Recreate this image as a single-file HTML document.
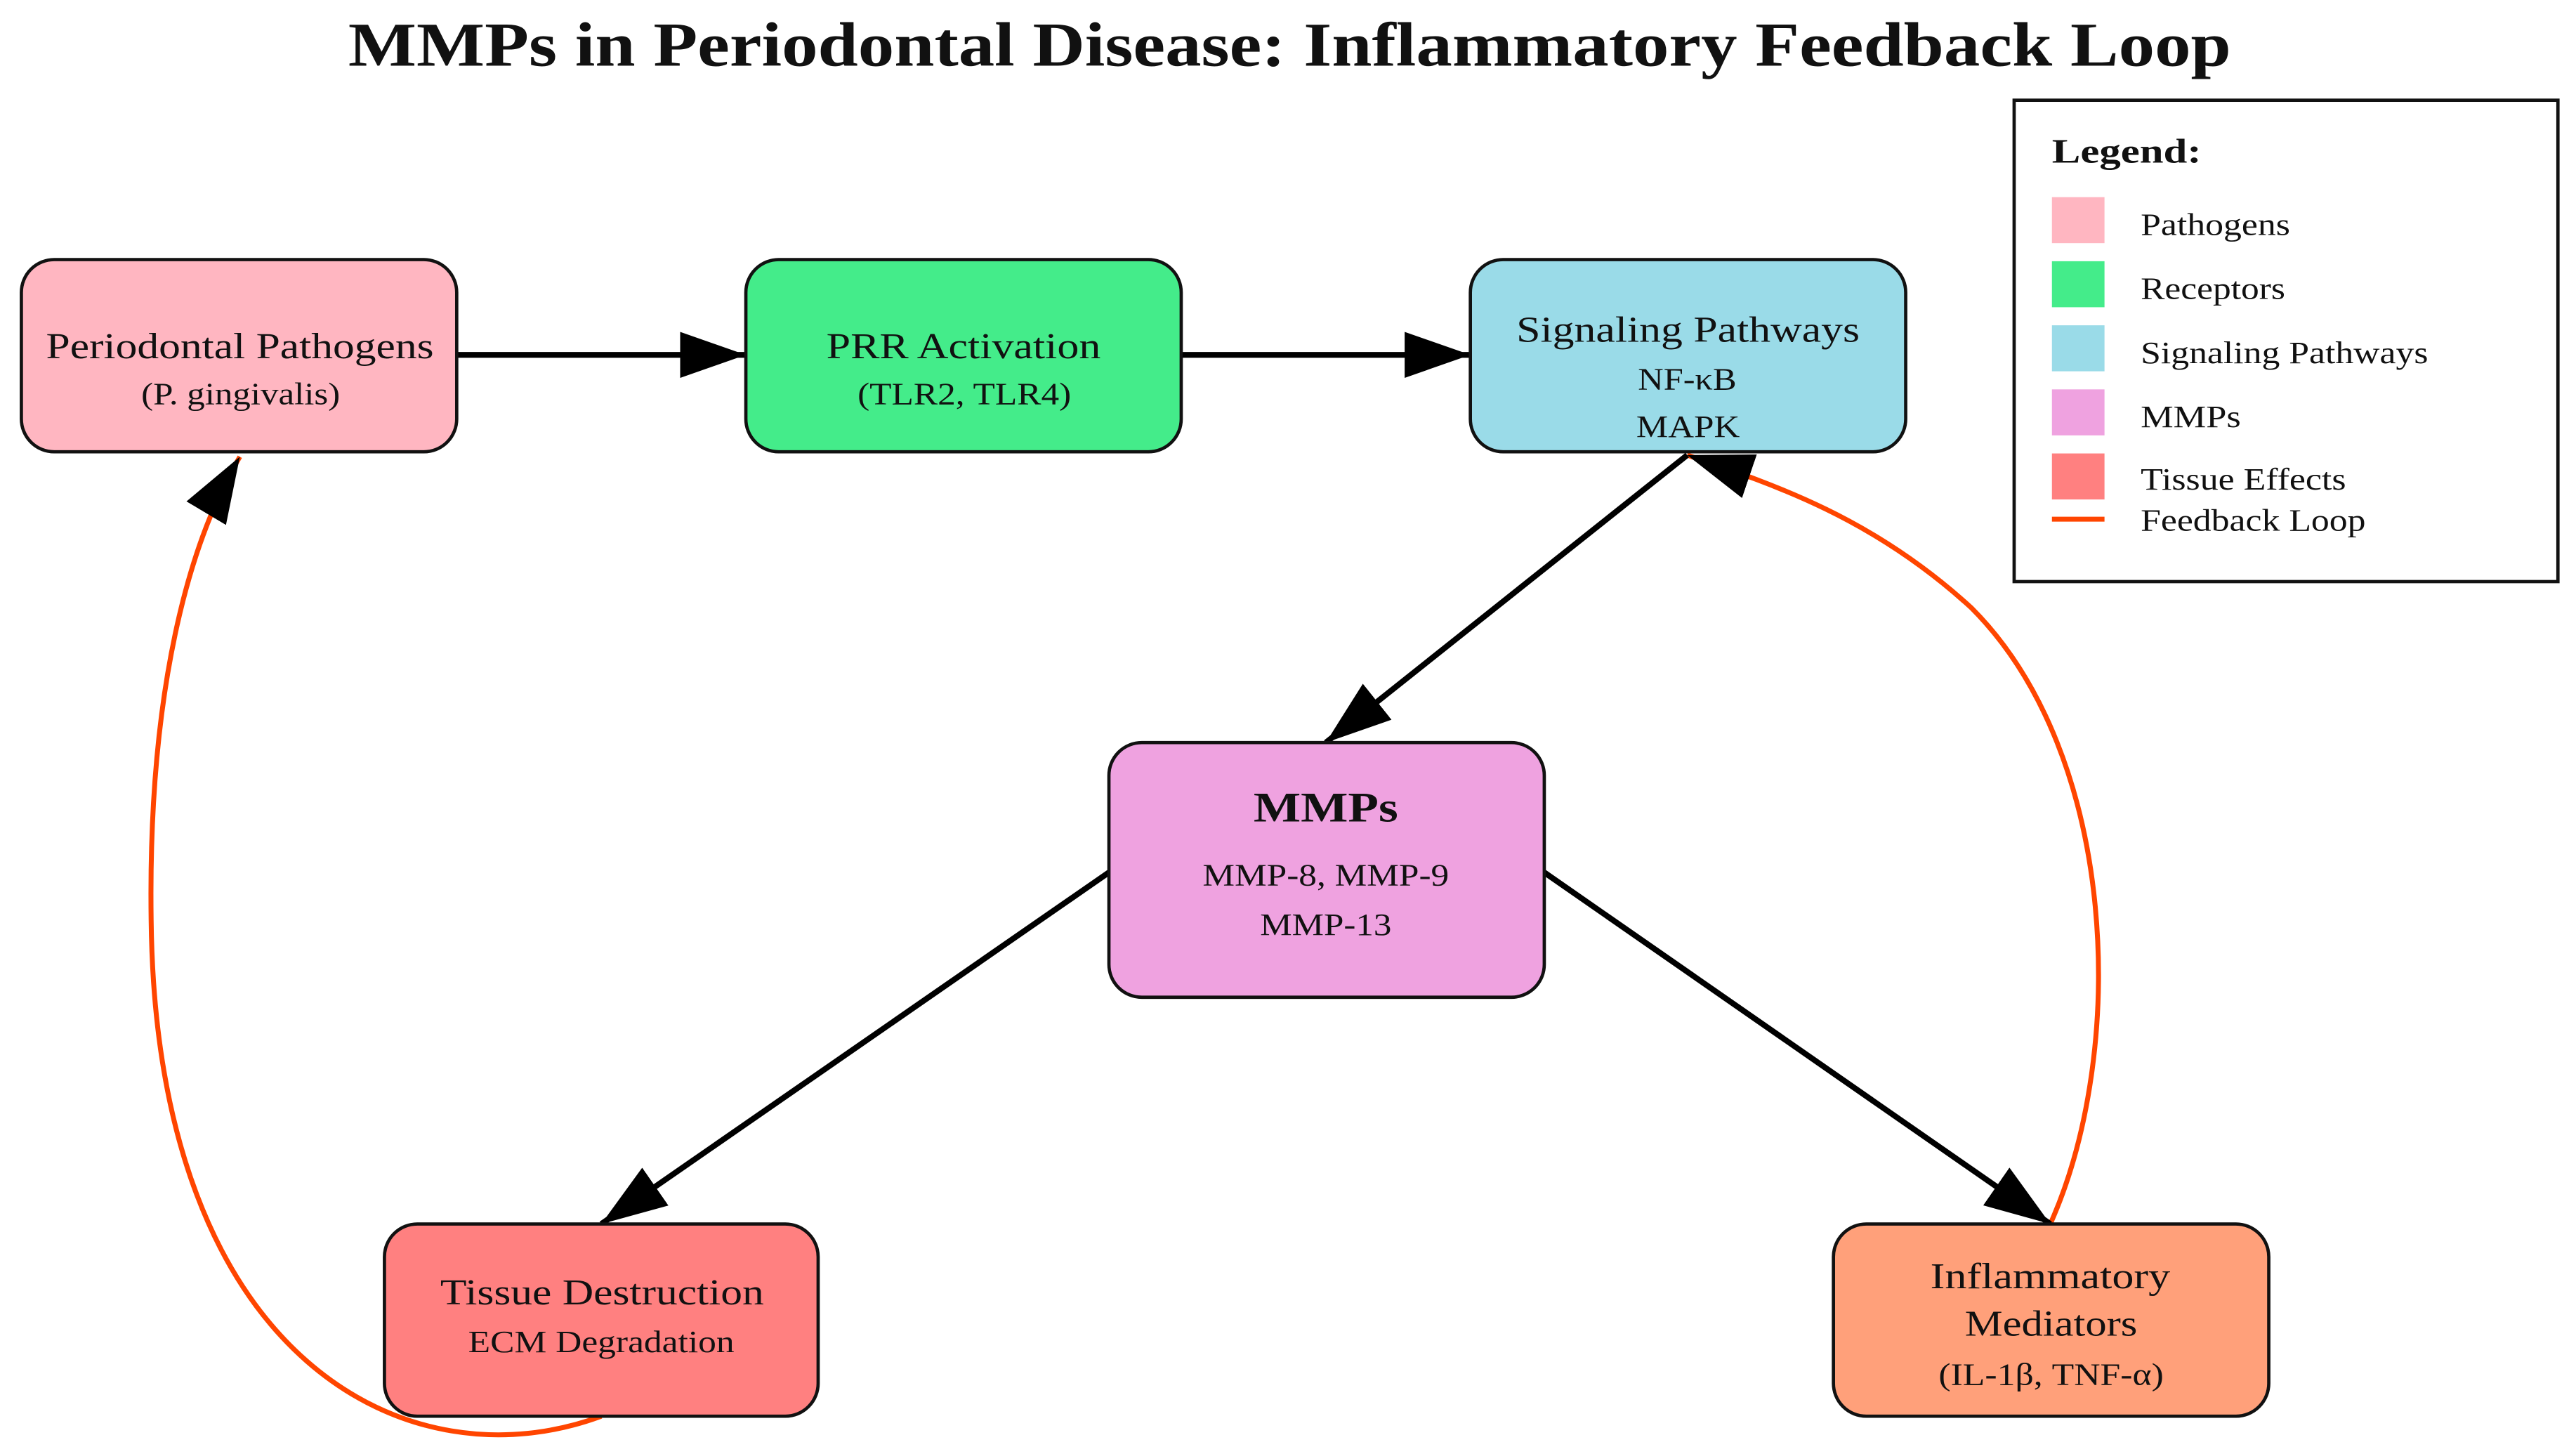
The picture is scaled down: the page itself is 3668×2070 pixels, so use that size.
<!DOCTYPE html>
<html><head><meta charset="utf-8"><style>
html,body{margin:0;padding:0;background:#fff;}
svg{display:block;}
text{font-family:"Liberation Serif",serif;fill:#111;}
</style></head><body>
<svg width="3668" height="2070" viewBox="0 0 1568 885" preserveAspectRatio="none" xmlns="http://www.w3.org/2000/svg">
<defs>
<marker id="b" viewBox="0 0 10 10" refX="10" refY="5" markerWidth="40" markerHeight="40" markerUnits="userSpaceOnUse" orient="auto"><path d="M0,1.5 L10,5 L0,8.5z" fill="#000"/></marker>
</defs>
<text x="212" y="40" font-size="38" font-weight="bold" textLength="1146" lengthAdjust="spacingAndGlyphs">MMPs in Periodontal Disease: Inflammatory Feedback Loop</text>

<path d="M366,862 C250,905 95,830 92,560 C90,420 115,330 146,278" fill="none" stroke="#FF4500" stroke-width="3" marker-end="url(#b)"/>
<path d="M1248,745 C1295,640 1290,460 1200,370 C1140,315 1080,295 1027,277" fill="none" stroke="#FF4500" stroke-width="3" marker-end="url(#b)"/>

<g stroke="#000" stroke-width="3.5" fill="none">
<line x1="278" y1="216" x2="454" y2="216" marker-end="url(#b)"/>
<line x1="719" y1="216" x2="895" y2="216" marker-end="url(#b)"/>
<line x1="1027" y1="277" x2="807" y2="452" marker-end="url(#b)"/>
<line x1="675" y1="531" x2="366" y2="745" marker-end="url(#b)"/>
<line x1="940" y1="531" x2="1248" y2="745" marker-end="url(#b)"/>
</g>

<g stroke="#111" stroke-width="2">
<rect x="13" y="158" width="265" height="117" rx="20" fill="#FFB6C1"/>
<rect x="454" y="158" width="265" height="117" rx="20" fill="#44EC8A"/>
<rect x="895" y="158" width="265" height="117" rx="20" fill="#9ADBE8"/>
<rect x="675" y="452" width="265" height="155" rx="20" fill="#EFA2E0"/>
<rect x="234" y="745" width="264" height="117" rx="20" fill="#FF8080"/>
<rect x="1116" y="745" width="265" height="117" rx="20" fill="#FFA07A"/>
</g>
<g lengthAdjust="spacingAndGlyphs">
<text x="28" y="218" font-size="22" textLength="236" lengthAdjust="spacingAndGlyphs">Periodontal Pathogens</text>
<text x="86" y="246" font-size="19" textLength="121" lengthAdjust="spacingAndGlyphs">(P. gingivalis)</text>
<text x="503" y="218" font-size="22" textLength="167" lengthAdjust="spacingAndGlyphs">PRR Activation</text>
<text x="522" y="246" font-size="19" textLength="130" lengthAdjust="spacingAndGlyphs">(TLR2, TLR4)</text>
<text x="923" y="208" font-size="22" textLength="209" lengthAdjust="spacingAndGlyphs">Signaling Pathways</text>
<text x="997" y="237" font-size="19" textLength="60" lengthAdjust="spacingAndGlyphs">NF-κB</text>
<text x="996" y="266" font-size="19" textLength="63" lengthAdjust="spacingAndGlyphs">MAPK</text>
<text x="763" y="500" font-size="26" font-weight="bold" textLength="88" lengthAdjust="spacingAndGlyphs">MMPs</text>
<text x="732" y="539" font-size="19" textLength="150" lengthAdjust="spacingAndGlyphs">MMP-8, MMP-9</text>
<text x="767" y="569" font-size="19" textLength="80" lengthAdjust="spacingAndGlyphs">MMP-13</text>
<text x="268" y="794" font-size="22" textLength="197" lengthAdjust="spacingAndGlyphs">Tissue Destruction</text>
<text x="285" y="823" font-size="19" textLength="162" lengthAdjust="spacingAndGlyphs">ECM Degradation</text>
<text x="1175" y="784" font-size="22" textLength="146" lengthAdjust="spacingAndGlyphs">Inflammatory</text>
<text x="1196" y="813" font-size="22" textLength="105" lengthAdjust="spacingAndGlyphs">Mediators</text>
<text x="1180" y="843" font-size="19" textLength="137" lengthAdjust="spacingAndGlyphs">(IL-1β, TNF-α)</text>
</g>

<rect x="1226" y="61" width="331" height="293" fill="#fff" stroke="#111" stroke-width="2"/>
<text x="1249" y="99" font-size="21" font-weight="bold" textLength="91" lengthAdjust="spacingAndGlyphs">Legend:</text>
<rect x="1249" y="120" width="32" height="28" fill="#FFB6C1"/>
<rect x="1249" y="159" width="32" height="28" fill="#44EC8A"/>
<rect x="1249" y="198" width="32" height="28" fill="#9ADBE8"/>
<rect x="1249" y="237" width="32" height="28" fill="#EFA2E0"/>
<rect x="1249" y="276" width="32" height="28" fill="#FF8080"/>
<line x1="1249" y1="316" x2="1281" y2="316" stroke="#FF4500" stroke-width="3"/>
<g font-size="19">
<text x="1303" y="143" textLength="91" lengthAdjust="spacingAndGlyphs">Pathogens</text>
<text x="1303" y="182" textLength="88" lengthAdjust="spacingAndGlyphs">Receptors</text>
<text x="1303" y="221" textLength="175" lengthAdjust="spacingAndGlyphs">Signaling Pathways</text>
<text x="1303" y="260" textLength="61" lengthAdjust="spacingAndGlyphs">MMPs</text>
<text x="1303" y="298" textLength="125" lengthAdjust="spacingAndGlyphs">Tissue Effects</text>
<text x="1303" y="323" textLength="137" lengthAdjust="spacingAndGlyphs">Feedback Loop</text>
</g>
</svg>
</body></html>
